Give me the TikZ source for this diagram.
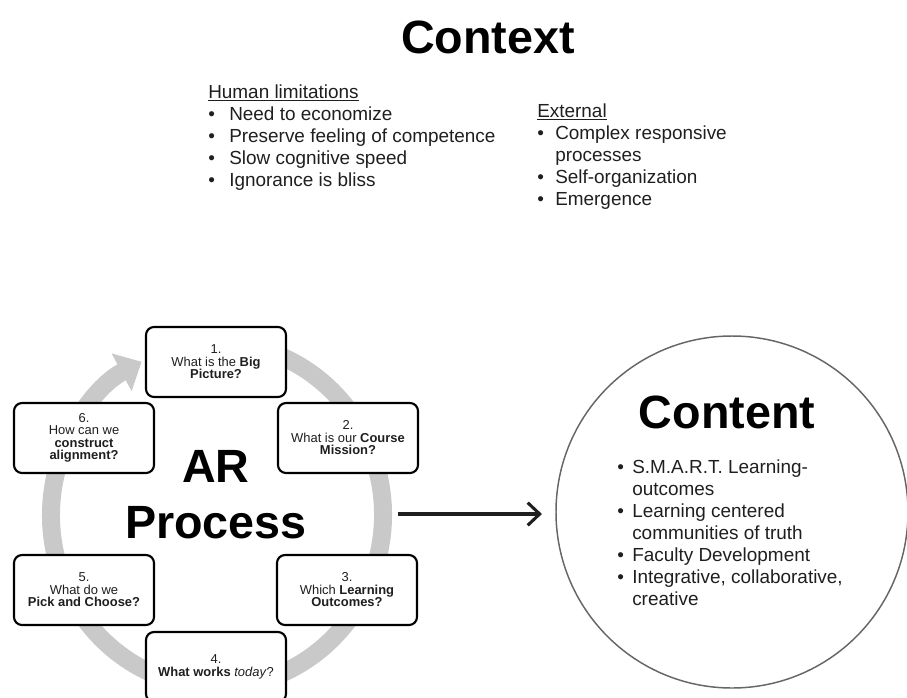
\documentclass[tikz,border=0pt]{standalone}
\usepackage{fontspec}
\setmainfont{Liberation Sans}
\usetikzlibrary{arrows.meta}
\colorlet{ringgray}{black!21}
\colorlet{rimgray}{black!60}
\colorlet{ink}{black!88}

\begin{document}
\begin{tikzpicture}[x=0.75pt,y=-0.75pt]
\useasboundingbox (0,0) rectangle (907,697);
\tikzset{BigTitle/.style ={inner sep=0, text=black, font=\fontsize{35}{40}\selectfont\bfseries}}
\tikzset{ListText/.style ={inner sep=0, anchor=base west, text=ink, font=\fontsize{14.2}{16.6}\selectfont}}
\tikzset{StepBox/.style ={draw=black, line width=1.6pt, rounded corners=6pt, fill=white, minimum width=105pt, minimum height=52.5pt, align=center, inner sep=2pt, text=ink, font=\fontsize{9.7}{9.4}\selectfont}}
\node[BigTitle, anchor=base] (context) at (488,53) {Context};
\node[ListText] (human) at (208,98) {\begin{tabular}[t]{@{}p{15.75pt}@{}l@{}}
\multicolumn{2}{@{}l@{}}{\underline{Human limitations}}\\
\textbullet & Need to economize\\
\textbullet & Preserve feeling of competence\\
\textbullet & Slow cognitive speed\\
\textbullet & Ignorance is bliss
\end{tabular}};
\node[ListText] (external) at (537,117) {\begin{tabular}[t]{@{}p{13.5pt}@{}l@{}}
\multicolumn{2}{@{}l@{}}{\underline{External}}\\
\textbullet & Complex responsive\\
 & processes\\
\textbullet & Self-organization\\
\textbullet & Emergence
\end{tabular}};
\draw[ringgray, line width=13.5pt, -{Triangle[width=31pt,length=17pt]}]
  ([shift={(-80:166 and 172)}]217,515) arc[start angle=-80, end angle=243, x radius=166, y radius=172];
\node[BigTitle, anchor=base] (ar) at (216,482) {AR};
\node[BigTitle, anchor=base] (process) at (216,538) {Process};
\node[StepBox] (q1) at (216,362) {1.\\What is the \textbf{Big}\\\textbf{Picture?}};
\node[StepBox] (q2) at (348,438) {2.\\What is our \textbf{Course}\\\textbf{Mission?}};
\node[StepBox] (q3) at (347,590) {3.\\Which \textbf{Learning}\\\textbf{Outcomes?}};
\node[StepBox] (q4) at (216,667) {4.\\\textbf{What works} \textit{today}?};
\node[StepBox] (q5) at (84,590) {5.\\What do we\\\textbf{Pick and Choose?}};
\node[StepBox] (q6) at (84,438) {6.\\How can we\\\textbf{construct}\\\textbf{alignment?}};
\node[draw=rimgray, line width=1.1pt, circle, minimum size=264pt, inner sep=0] (content) at (732,512) {};
\node[BigTitle, anchor=base] (contenttitle) at (727,428) {Content};
\node[ListText] (contentlist) at (617,473) {\begin{tabular}[t]{@{}p{11.25pt}@{}l@{}}
\textbullet & S.M.A.R.T. Learning-\\
 & outcomes\\
\textbullet & Learning centered\\
 & communities of truth\\
\textbullet & Faculty Development\\
\textbullet & Integrative, collaborative,\\
 & creative
\end{tabular}};
\coordinate (arstart) at (398,514);
\draw[ink, line width=2.3pt, -{Straight Barb[length=9pt,width=17pt]}, shorten >=10pt] (arstart) -- (arstart -| content.west);
\end{tikzpicture}
\end{document}
